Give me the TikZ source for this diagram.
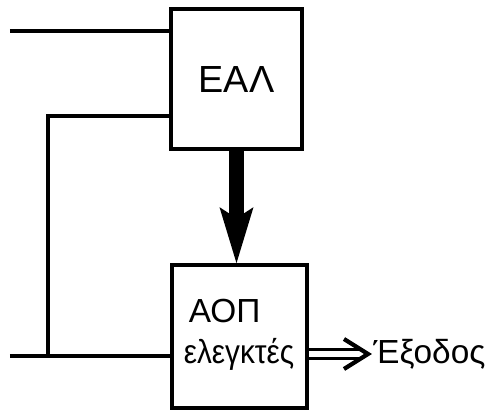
\documentclass[tikz,border=0pt]{standalone}
\usepackage{fontspec}
\setmainfont{Liberation Sans}
\usetikzlibrary{arrows.meta, positioning, calc}

\begin{document}
\begin{tikzpicture}[
      x=0.02cm, y=-0.02cm,
      font=\fontsize{19}{22}\selectfont,
      line width=2.1pt,
      blockbox/.style={
          draw,
          minimum width=2.66cm,
          minimum height=2.82cm,
          inner sep=0pt,
          align=center
      },
      boxlbl/.style={
          anchor=base west,
          inner sep=0pt
      },
      wire/.style={line width=2.1pt},
      bigarrow/.style={line width=8pt, -{Stealth[length=1.12cm, width=0.68cm, inset=0.22cm, line width=0pt]}},
      outarrow/.style={double, line width=1.5pt, double distance=3.8pt, shorten >=0.12cm},
      outhead/.style={line width=2.4pt}
  ]
      \path[use as bounding box] (0,0) rectangle (485,410);

      % --- Blocks ---
      \node[blockbox, minimum width=2.62cm, minimum height=2.8cm, font=\fontsize{21.5}{24}\selectfont] (eal) at (236.5,79) {ΕΑΛ};
      \node[blockbox, minimum width=2.7cm, minimum height=2.86cm] (aop) at (239.5,336.5) {};

      % --- Labels ---
      \node[boxlbl] (aop_lbl) at (187,322) {ΑΟΠ};
      \node[boxlbl] (ctrl_lbl) at (182,363) {\scalebox{0.89}[1]{ελεγκτές}};
      \node[anchor=west, inner sep=2pt] (out) at (368,354) {Έξοδος};

      % --- Inputs ---
      \coordinate (in_top) at (10,31);
      \coordinate (in_bot) at (10,356);
      \coordinate (fb) at (48,116);

      % --- Connections ---
      \draw[wire] (in_top) -- (in_top -| eal.west);
      \draw[wire] (in_bot) -- (in_bot -| aop.west);
      \draw[wire] (eal.west |- fb) -- (fb) -- (fb |- in_bot);

      \draw[bigarrow] (eal.south) -- (eal.south |- aop.north);
      \draw[outarrow] (aop.east |- out.west) -- (out.west);
      \draw[outhead] ($(out.west)+(-24,-15)$) -- (out.west) -- ($(out.west)+(-24,15)$);

  \end{tikzpicture}
\end{document}
